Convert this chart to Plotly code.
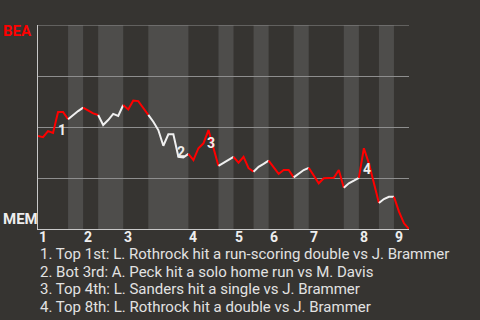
import plotly.graph_objects as go

# BEA win probability (%) after each plate appearance
wp = [45.6, 45.0, 48.0, 47.1, 57.4, 57.4, 53.8, 55.9, 57.8, 59.5,
      58.0, 56.7, 55.9, 51.0, 53.4, 56.4, 55.4, 60.8, 58.6, 63.0,
      62.7, 59.3, 55.9, 52.6, 48.5, 40.8, 46.4, 46.4, 35.4, 35.1,
      36.8, 33.8, 39.6, 42.0, 48.5, 40.2, 30.9, 32.5, 34.2, 35.4,
      32.5, 35.4, 29.8, 28.1, 30.5, 31.9, 33.5, 30.5, 27.0, 28.9,
      28.9, 25.3, 27.3, 28.9, 30.0, 26.5, 22.4, 24.9, 25.1, 25.1,
      28.9, 20.2, 22.4, 23.7, 25.1, 39.6, 32.2, 22.5, 12.7, 14.7,
      15.8, 15.8, 8.5, 2.8, 0.0]

# index where each half-inning starts (top 1st, bot 1st, top 2nd, ...)
half_starts = [0, 6, 9, 12, 17, 22, 30, 36, 39, 43, 46, 51, 54, 61, 64, 68, 71]
game_end = len(wp) - 1
inning_labels = ["1", "2", "3", "4", "5", "6", "7", "8", "9"]

event_idx = [4, 28, 34, 65]
event_text = [
    "1. Top 1st: L. Rothrock hit a run-scoring double vs J. Brammer",
    "2. Bot 3rd: A. Peck hit a solo home run vs M. Davis",
    "3. Top 4th: L. Sanders hit a single vs J. Brammer",
    "4. Top 8th: L. Rothrock hit a double vs J. Brammer",
]
event_shift = [(4, -18), (3, 5), (3, -13), (3, -21)]

BG = "#363431"
BAND = "#4e4d4b"
RED = "#ff0000"
WHITE = "#f0f0f0"
GRID = "#8e8e8e"
AXIS = "#c8c8c8"

W, H = 480, 320
L, R, T, B = 38, 71, 25, 91
PW, PH = W - L - R, H - T - B


def px_x(x):
    return (x - L) / PW


def px_y(y):
    return (H - B - y) / PH


fig = go.Figure()
shapes = []
ends = half_starts[1:] + [game_end]
for k, (s, e) in enumerate(zip(half_starts, ends)):
    top = (k % 2 == 0)
    xs = list(range(s, e + 1))
    fig.add_trace(go.Scatter(
        x=xs, y=[wp[i] for i in xs], mode="lines",
        line=dict(color=RED if top else WHITE, width=2),
        hoverinfo="skip", showlegend=False, cliponaxis=False))
    if not top:
        shapes.append(dict(type="rect", xref="x", yref="paper", x0=s, x1=e,
                           y0=0, y1=1, fillcolor=BAND, line=dict(width=0),
                           layer="below"))

# top border gridline (100%)
shapes.append(dict(type="line", xref="paper", yref="y", x0=0, x1=1, y0=100, y1=100,
                   line=dict(color=GRID, width=1), layer="below"))

annotations = []
for n, (i, (dx, dy)) in enumerate(zip(event_idx, event_shift)):
    annotations.append(dict(
        x=i, y=wp[i], xref="x", yref="y", text=str(n + 1), showarrow=False,
        xshift=dx, yshift=dy, xanchor="center", yanchor="middle",
        font=dict(family="Roboto", size=14, color="#eeeeee", weight="bold")))

# inning labels, left-aligned at the start of each top half
for lab, s in zip(inning_labels, half_starts[::2]):
    annotations.append(dict(
        x=s, y=px_y(237), xref="x", yref="paper", text=lab, showarrow=False,
        xanchor="left", yanchor="middle", xshift=-1,
        font=dict(family="Roboto", size=14, color="#eeeeee", weight="bold")))

annotations.append(dict(x=px_x(3), y=px_y(30.5), xref="paper", yref="paper",
                        text="BEA", showarrow=False, xanchor="left", yanchor="middle",
                        xshift=-2,
                        font=dict(family="Roboto", size=15, color=RED, weight="bold")))
annotations.append(dict(x=px_x(3), y=px_y(219), xref="paper", yref="paper",
                        text="MEM", showarrow=False, xanchor="left", yanchor="middle",
                        xshift=-2,
                        font=dict(family="Roboto", size=15, color="#eeeeee", weight="bold")))

for j, t in enumerate(event_text):
    annotations.append(dict(x=px_x(39), y=px_y(254 + 17.6 * j), xref="paper",
                            yref="paper", text=t, showarrow=False,
                            xanchor="left", yanchor="middle", xshift=-1,
                            font=dict(family="Roboto", size=15, color="#e2e2e2")))

fig.update_layout(
    width=W, height=H,
    margin=dict(l=L, r=R, t=T, b=B, pad=0),
    paper_bgcolor=BG, plot_bgcolor=BG,
    shapes=shapes, annotations=annotations,
    xaxis=dict(range=[0, game_end], showticklabels=False, ticks="",
               showgrid=False, zeroline=False,
               showline=True, linecolor=AXIS, linewidth=1),
    yaxis=dict(range=[0, 100], tickvals=[0, 25, 50, 75, 100], showticklabels=False,
               ticks="", showgrid=True, gridcolor=GRID, gridwidth=1,
               zeroline=False, showline=True, linecolor=AXIS, linewidth=1),
)

fig.write_html("out.html")
